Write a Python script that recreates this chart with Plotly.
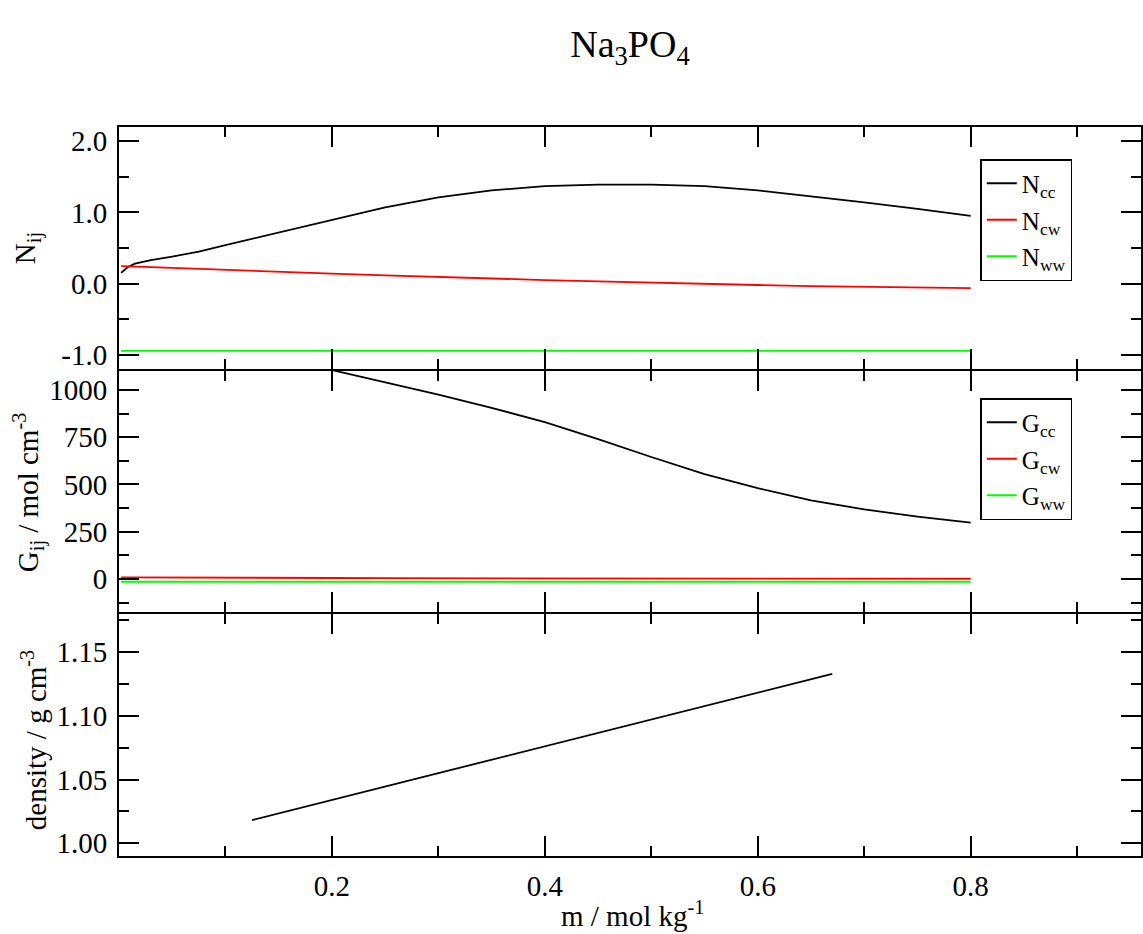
import plotly.graph_objects as go

# ---- data -------------------------------------------------------------
# molality grid for the Kirkwood-Buff numbers
m_N = [0.002, 0.008, 0.015, 0.03, 0.05, 0.075, 0.1, 0.15, 0.2, 0.25, 0.3,
       0.35, 0.4, 0.45, 0.5, 0.55, 0.6, 0.65, 0.7, 0.75, 0.8]
N_cc = [0.15, 0.23, 0.28, 0.33, 0.38, 0.45, 0.54, 0.72, 0.90, 1.07, 1.21,
        1.31, 1.37, 1.39, 1.39, 1.37, 1.31, 1.23, 1.14, 1.05, 0.95]
N_cw = [0.245, 0.24, 0.235, 0.23, 0.22, 0.205, 0.19, 0.165, 0.14, 0.115, 0.09,
        0.07, 0.05, 0.03, 0.01, -0.005, -0.02, -0.035, -0.045, -0.055, -0.065]
N_ww = [-0.945, -0.945, -0.945, -0.945, -0.945, -0.945, -0.945, -0.945, -0.945,
        -0.945, -0.945, -0.945, -0.945, -0.945, -0.945, -0.945, -0.945,
        -0.946, -0.946, -0.946, -0.946]

# Kirkwood-Buff integrals
m_Gcc = [0.2, 0.25, 0.3, 0.35, 0.4, 0.45, 0.5, 0.55, 0.6, 0.65, 0.7, 0.75, 0.8]
G_cc = [1105, 1040, 975, 905, 830, 740, 645, 555, 480, 415, 368, 330, 298]
G_cw = [8, 8, 8, 7, 7, 6, 6, 5, 5, 4, 4, 3, 3, 3, 2, 2, 2, 1, 1, 1, 1]
G_ww = [-15, -15, -15, -15, -15, -15, -15, -15, -15, -15, -15, -15, -15,
        -15, -15, -15, -15, -15, -15, -15, -15]

# solution density
m_rho = [0.125, 0.2, 0.3, 0.4, 0.5, 0.6, 0.67]
rho = [1.0182, 1.034, 1.055, 1.076, 1.097, 1.118, 1.133]

# axis ticks
x_ticks = [0.2, 0.4, 0.6, 0.8]
x_ticktext = ["0.2", "0.4", "0.6", "0.8"]
x_minor = [0.1, 0.3, 0.5, 0.7, 0.9]
yN_ticks = [-1.0, 0.0, 1.0, 2.0]
yN_ticktext = ["-1.0", "0.0", "1.0", "2.0"]
yN_minor = [-0.5, 0.5, 1.5]
yG_ticks = [0, 250, 500, 750, 1000]
yG_ticktext = ["0", "250", "500", "750", "1000"]
yG_minor = [-125, 125, 375, 625, 875]
yD_ticks = [1.00, 1.05, 1.10, 1.15]
yD_ticktext = ["1.00", "1.05", "1.10", "1.15"]
yD_minor = [1.025, 1.075, 1.125, 1.175]

# ---- figure -----------------------------------------------------------
FONT = "Liberation Serif, Times New Roman, serif"
BLACK, RED, GREEN = "#000000", "#ff0000", "#00ff00"
W, H = 1143, 934
ML, MR, MT, MB = 119, 0, 127, 78
PH = H - MT - MB          # plot-area height in px
PW = W - ML - MR          # plot-area width in px
BOTTOM = H - MB           # pixel row of the lowest axis


def ydom(top_px, bot_px):
    """Vertical domain from pixel rows (measured from the top of the page)."""
    return [(BOTTOM - bot_px) / PH, (BOTTOM - top_px) / PH]


fig = go.Figure()


def line(x, y, color, name, xa, ya, legend=None, show=True):
    fig.add_trace(go.Scatter(
        x=x, y=y, mode="lines", name=name,
        line=dict(color=color, width=1.8),
        xaxis=xa, yaxis=ya, showlegend=show,
        legend=legend, legendgroup=name,
    ))


line(m_N, N_cc, BLACK, "N<sub>cc</sub>", "x", "y", "legend")
line(m_N, N_cw, RED, "N<sub>cw</sub>", "x", "y", "legend")
line(m_N, N_ww, GREEN, "N<sub>ww</sub>", "x", "y", "legend")

line(m_Gcc, G_cc, BLACK, "G<sub>cc</sub>", "x2", "y2", "legend2")
line(m_N, G_cw, RED, "G<sub>cw</sub>", "x2", "y2", "legend2")
line(m_N, G_ww, GREEN, "G<sub>ww</sub>", "x2", "y2", "legend2")

line(m_rho, rho, BLACK, "density", "x3", "y3", show=False)

tick_font = dict(family=FONT, size=29, color=BLACK)
minor_style = dict(ticks="inside", ticklen=10, tickwidth=1.5, tickcolor=BLACK,
                   tickmode="array")


def xaxis(anchor, labels):
    return dict(
        domain=[0, 1], anchor=anchor, range=[0.0, 0.96],
        showline=True, linecolor=BLACK, linewidth=2, mirror="ticks",
        ticks="inside", ticklen=20, tickwidth=1.5, tickcolor=BLACK,
        tickmode="array", tickvals=x_ticks, ticktext=x_ticktext,
        showticklabels=labels, tickfont=tick_font, ticklabelstandoff=3,
        minor=dict(minor_style, tickvals=x_minor),
        showgrid=False, zeroline=False,
    )


def yaxis(anchor, dom, rng, vals, text, minor):
    return dict(
        domain=dom, anchor=anchor, range=rng,
        showline=True, linecolor=BLACK, linewidth=2, mirror="ticks",
        ticks="inside", ticklen=20, tickwidth=1.5, tickcolor=BLACK,
        tickmode="array", tickvals=vals, ticktext=text,
        tickfont=tick_font, ticklabelstandoff=4,
        minor=dict(minor_style, tickvals=minor),
        showgrid=False, zeroline=False,
    )


# panels leave a 2 px gap so the outward-drawn frame lines of
# neighbouring panels fall on top of each other
legend_common = dict(
    xref="paper", yref="paper", x=(982 - ML) / PW, xanchor="left",
    yanchor="top", bgcolor="white", bordercolor=BLACK, borderwidth=1.5,
    font=dict(family=FONT, size=25, color=BLACK),
    itemwidth=30, tracegroupgap=1,
)

fig.update_layout(
    width=W, height=H,
    margin=dict(l=ML, r=MR, t=MT, b=MB),
    paper_bgcolor="white", plot_bgcolor="white",
    font=dict(family=FONT, color=BLACK),
    xaxis=xaxis("y", False),
    xaxis2=xaxis("y2", False),
    xaxis3=xaxis("y3", True),
    yaxis=yaxis("x", ydom(127, 369), [-1.2, 2.2],
                yN_ticks, yN_ticktext, yN_minor),
    yaxis2=yaxis("x2", ydom(371, 612), [-175, 1100],
                 yG_ticks, yG_ticktext, yG_minor),
    yaxis3=yaxis("x3", ydom(614, 856), [0.99, 1.18],
                 yD_ticks, yD_ticktext, yD_minor),
    legend=dict(legend_common, y=(BOTTOM - 159) / PH),
    legend2=dict(legend_common, y=(BOTTOM - 398) / PH),
    title=dict(text="Na<sub>3</sub>PO<sub>4</sub>",
               font=dict(family=FONT, size=38, color=BLACK),
               xref="paper", x=0.5, xanchor="center",
               yref="container", y=1 - 44 / H, yanchor="middle"),
    showlegend=True,
)

title_font = dict(family=FONT, size=29, color=BLACK)
axis_titles = [
    ("N<sub>ij</sub>", 27, 248),
    ("G<sub>ij</sub> / mol cm<sup>-3</sup>", 28, 492),
    ("density / g cm<sup>-3</sup>", 34, 740),
]
for text, px, py in axis_titles:
    fig.add_annotation(
        text=text, textangle=-90, showarrow=False,
        xref="paper", yref="paper",
        x=(px - ML) / PW, y=(BOTTOM - py) / PH,
        xanchor="center", yanchor="middle", font=title_font,
    )

fig.add_annotation(
    text="m / mol kg<sup>-1</sup>", showarrow=False,
    xref="paper", yref="paper",
    x=(634 - ML) / PW, y=(BOTTOM - 914) / PH,
    xanchor="center", yanchor="middle", font=title_font,
)

fig.write_html("out.html")
